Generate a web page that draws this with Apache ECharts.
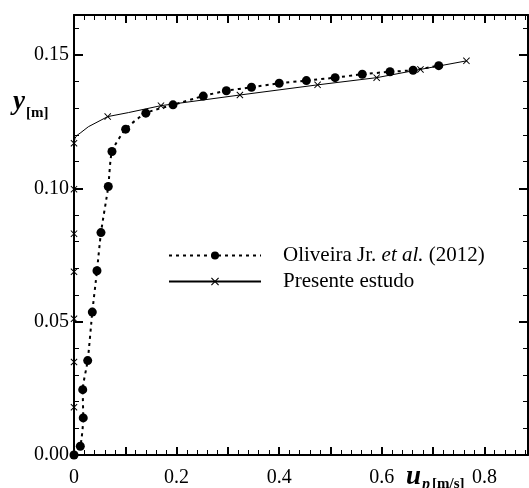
<!DOCTYPE html>
<html><head><meta charset="utf-8">
<script src="https://cdn.jsdelivr.net/npm/echarts@6/dist/echarts.min.js"></script>
<style>html,body{margin:0;padding:0;background:#fff}#c{width:529px;height:488px}</style>
</head><body><div id="c"></div>
<script>
// Oliveira Jr. et al. (2012) data points
const oliveiraX = [0, 0.0123, 0.018, 0.017, 0.0267, 0.0357, 0.0448, 0.0526, 0.0668, 0.074, 0.1007, 0.140, 0.193, 0.252, 0.297, 0.346, 0.400, 0.453, 0.509, 0.562, 0.616, 0.661, 0.711];
const oliveiraY = [0, 0.0033, 0.0139, 0.0245, 0.0354, 0.0536, 0.0691, 0.0834, 0.1007, 0.1138, 0.1222, 0.1282, 0.1313, 0.1346, 0.1366, 0.1379, 0.1394, 0.1404, 0.1415, 0.1428, 0.1437, 0.1443, 0.146];
// Presente estudo curve (marked = point drawn with an x marker)
const presenteX = [0, 0, 0, 0, 0, 0, 0, 0, 0.002, 0.006, 0.012, 0.028, 0.0657, 0.106, 0.1695, 0.3234, 0.4748, 0.590, 0.6754, 0.765];
const presenteY = [0, 0.0179, 0.0349, 0.0511, 0.0687, 0.083, 0.0997, 0.1169, 0.1188, 0.1199, 0.1207, 0.1231, 0.1269, 0.1284, 0.131, 0.135, 0.1388, 0.1415, 0.1446, 0.1478];
const presenteMarked = [1, 1, 1, 1, 1, 1, 1, 1, 0, 0, 0, 0, 1, 0, 1, 1, 1, 1, 1, 1];
// Tick labels
const xTickValues = [0, 0.2, 0.4, 0.6, 0.8];
const xTickLabels = ['0', '0.2', '0.4', '0.6', '0.8'];
const yTickValues = [0, 0.05, 0.1, 0.15];
const yTickLabels = ['0.00', '0.05', '0.10', '0.15'];
const seriesNames = ['Oliveira Jr. et al. (2012)', 'Presente estudo'];

const FONT = 'Liberation Serif';
const CROSS = 'path://M0,1L1,0L5,4L9,0L10,1L6,5L10,9L9,10L5,6L1,10L0,9L4,5Z';

function labelFor(values, labels, v) {
  for (let i = 0; i < values.length; i++) if (Math.abs(values[i] - v) < 1e-6) return labels[i];
  return '';
}

const axisLineStyle = {color: '#000', width: 2};
function xAxisCfg(pos, showLabel) {
  return {
    type: 'value', min: 0, max: 0.885, interval: 0.1, position: pos,
    axisLine: {show: true, onZero: false, lineStyle: axisLineStyle},
    axisTick: {show: true, inside: true, length: 8, lineStyle: {color: '#000', width: 2}},
    minorTick: {show: true, splitNumber: 5, length: 5, lineStyle: {color: '#000', width: 1}},
    splitLine: {show: false},
    axisLabel: {show: showLabel, color: '#000', fontFamily: FONT, fontSize: 20, margin: 13,
      showMaxLabel: false, formatter: v => labelFor(xTickValues, xTickLabels, v)}
  };
}
function yAxisCfg(pos, showLabel) {
  return {
    type: 'value', min: 0, max: 0.165, interval: 0.05, position: pos,
    axisLine: {show: true, onZero: false, lineStyle: axisLineStyle},
    axisTick: {show: true, inside: true, length: 9, lineStyle: {color: '#000', width: 2}},
    minorTick: {show: true, splitNumber: 5, length: 5, lineStyle: {color: '#000', width: 1}},
    splitLine: {show: false},
    axisLabel: {show: showLabel, color: '#000', fontFamily: FONT, fontSize: 20, margin: 5,
      showMaxLabel: false, formatter: v => labelFor(yTickValues, yTickLabels, v)}
  };
}

const oliveiraData = oliveiraX.map((x, i) => [x, oliveiraY[i]]);
const presenteData = presenteX.map((x, i) => presenteMarked[i]
  ? {value: [x, presenteY[i]]}
  : {value: [x, presenteY[i]], symbol: 'none'});

const chart = echarts.init(document.getElementById('c'), null, {renderer: 'canvas'});
chart.setOption({
  animation: false,
  backgroundColor: '#fff',
  grid: {left: 74, right: 1, top: 15, bottom: 33, containLabel: false},
  xAxis: [xAxisCfg('bottom', true), xAxisCfg('top', false)],
  yAxis: [yAxisCfg('left', true), yAxisCfg('right', false)],
  legend: {
    orient: 'vertical', left: 163, top: 240,
    data: seriesNames,
    itemWidth: 92, itemHeight: 10, itemGap: 5,
    formatter: name => name === seriesNames[0]
      ? '{n|Oliveira Jr. }{i|et al.}{n| (2012)}'
      : '{n|' + name + '}',
    textStyle: {
      color: '#000', fontFamily: FONT, fontSize: 21, padding: [0, 0, 0, 17],
      rich: {
        n: {color: '#000', fontFamily: FONT, fontSize: 21},
        i: {color: '#000', fontFamily: FONT, fontSize: 21, fontStyle: 'italic'}
      }
    }
  },
  graphic: [
    {type: 'text', left: 13, top: 89, style: {text: 'y', font: 'italic bold 27px "Liberation Serif"', fill: '#000'}},
    {type: 'text', left: 26, top: 106, style: {text: '[m]', font: 'bold 15px "Liberation Serif"', fill: '#000'}},
    {type: 'text', left: 406, top: 464, style: {text: 'u', font: 'italic bold 27px "Liberation Serif"', fill: '#000'}},
    {type: 'text', left: 422, top: 477, style: {text: 'p', font: 'italic bold 16px "Liberation Serif"', fill: '#000'}},
    {type: 'text', left: 432, top: 477, style: {text: '[m/s]', font: 'bold 15px "Liberation Serif"', fill: '#000'}}
  ],
  series: [
    {
      name: seriesNames[1], type: 'line', data: presenteData,
      symbol: CROSS, symbolSize: 7, showAllSymbol: true,
      itemStyle: {color: '#000'},
      lineStyle: {color: '#000', width: 1},
      z: 2
    },
    {
      name: seriesNames[0], type: 'line', data: oliveiraData,
      symbol: 'circle', symbolSize: 9, showAllSymbol: true, smooth: 0.2,
      itemStyle: {color: '#000'},
      lineStyle: {color: '#000', width: 2, type: [3, 4]},
      z: 3
    }
  ]
});
</script>
</body></html>
